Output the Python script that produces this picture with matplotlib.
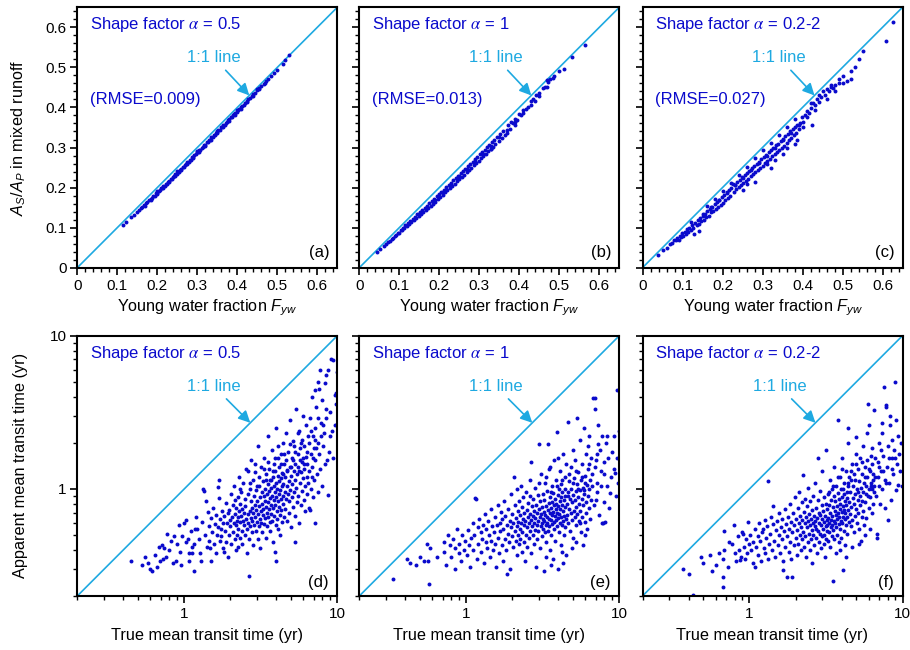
import numpy as np
import matplotlib
matplotlib.use('Agg')
import matplotlib.pyplot as plt
from matplotlib.ticker import FixedLocator, FuncFormatter, NullFormatter, LogLocator, MultipleLocator

plt.rcParams['font.family'] = ['Liberation Sans', 'DejaVu Sans']
plt.rcParams['mathtext.fontset'] = 'custom'
plt.rcParams['mathtext.rm'] = 'Liberation Sans'
plt.rcParams['mathtext.it'] = 'Liberation Sans:italic'
plt.rcParams['mathtext.bf'] = 'Liberation Sans:bold'

BLUE = '#0a0acc'
LIGHT = '#1ea9e1'

shape_labels = ['0.5', '1', '0.2-2']
rmse_labels = ['(RMSE=0.009)', '(RMSE=0.013)', '(RMSE=0.027)']
top_tags = ['(a)', '(b)', '(c)']
bottom_tags = ['(d)', '(e)', '(f)']

# (young water fraction, As/Ap in mixed runoff)
fyw_a = [(0.113, 0.107), (0.121, 0.114), (0.134, 0.126), (0.141, 0.132), (0.148, 0.139), (0.153, 0.143),
         (0.158, 0.149), (0.162, 0.151), (0.167, 0.156), (0.171, 0.161), (0.175, 0.163), (0.179, 0.168),
         (0.183, 0.172), (0.186, 0.173), (0.19, 0.179), (0.193, 0.18), (0.197, 0.186), (0.2, 0.187),
         (0.203, 0.192), (0.206, 0.193), (0.209, 0.198), (0.212, 0.199), (0.215, 0.203), (0.218, 0.205),
         (0.221, 0.21), (0.224, 0.21), (0.227, 0.215), (0.23, 0.216), (0.233, 0.222), (0.236, 0.222),
         (0.239, 0.227), (0.242, 0.228), (0.245, 0.234), (0.248, 0.234), (0.251, 0.239), (0.254, 0.24),
         (0.257, 0.245), (0.26, 0.246), (0.263, 0.251), (0.266, 0.252), (0.269, 0.257), (0.272, 0.258),
         (0.275, 0.264), (0.278, 0.264), (0.281, 0.27), (0.284, 0.27), (0.287, 0.276), (0.29, 0.276),
         (0.293, 0.282), (0.296, 0.283), (0.299, 0.288), (0.302, 0.289), (0.305, 0.295), (0.308, 0.295),
         (0.311, 0.3), (0.314, 0.301), (0.317, 0.307), (0.32, 0.307), (0.323, 0.313), (0.326, 0.314),
         (0.329, 0.319), (0.332, 0.32), (0.335, 0.325), (0.338, 0.326), (0.341, 0.331), (0.344, 0.332),
         (0.347, 0.337), (0.35, 0.338), (0.353, 0.344), (0.356, 0.344), (0.359, 0.35), (0.362, 0.351),
         (0.365, 0.356), (0.368, 0.357), (0.371, 0.362), (0.374, 0.364), (0.377, 0.368), (0.38, 0.37),
         (0.383, 0.375), (0.386, 0.376), (0.389, 0.381), (0.392, 0.383), (0.395, 0.387), (0.398, 0.389),
         (0.402, 0.394), (0.405, 0.396), (0.409, 0.4), (0.412, 0.403), (0.416, 0.407), (0.42, 0.411),
         (0.424, 0.415), (0.428, 0.42), (0.432, 0.424), (0.436, 0.428), (0.44, 0.433), (0.445, 0.437),
         (0.45, 0.443), (0.455, 0.448), (0.46, 0.454), (0.466, 0.459), (0.472, 0.466), (0.478, 0.472),
         (0.485, 0.479), (0.492, 0.487), (0.499, 0.494), (0.513, 0.509), (0.52, 0.518), (0.528, 0.532),
         (0.17, 0.155), (0.185, 0.169), (0.2, 0.184), (0.215, 0.2), (0.23, 0.214), (0.245, 0.229),
         (0.26, 0.244), (0.275, 0.259), (0.29, 0.274), (0.305, 0.289), (0.32, 0.304), (0.335, 0.32),
         (0.35, 0.335), (0.365, 0.351), (0.38, 0.366), (0.395, 0.382), (0.41, 0.397), (0.425, 0.413),
         (0.44, 0.429), (0.455, 0.445), (0.47, 0.461), (0.2, 0.191), (0.25, 0.241), (0.3, 0.292),
         (0.35, 0.342), (0.4, 0.393), (0.45, 0.445)]

fyw_b = [(0.045, 0.039), (0.052, 0.046), (0.061, 0.053), (0.067, 0.058), (0.072, 0.064), (0.077, 0.067),
         (0.081, 0.072), (0.085, 0.074), (0.089, 0.08), (0.092, 0.081), (0.096, 0.087), (0.099, 0.087),
         (0.103, 0.094), (0.106, 0.094), (0.109, 0.1), (0.112, 0.099), (0.115, 0.106), (0.118, 0.105),
         (0.121, 0.111), (0.124, 0.109), (0.127, 0.116), (0.13, 0.115), (0.133, 0.121), (0.136, 0.12),
         (0.139, 0.127), (0.142, 0.124), (0.145, 0.133), (0.148, 0.13), (0.151, 0.138), (0.154, 0.135),
         (0.157, 0.144), (0.16, 0.14), (0.163, 0.149), (0.166, 0.145), (0.169, 0.155), (0.172, 0.15),
         (0.175, 0.161), (0.178, 0.155), (0.181, 0.166), (0.184, 0.16), (0.187, 0.172), (0.19, 0.165),
         (0.193, 0.178), (0.196, 0.172), (0.199, 0.184), (0.202, 0.177), (0.205, 0.19), (0.208, 0.182),
         (0.211, 0.195), (0.214, 0.188), (0.217, 0.201), (0.22, 0.193), (0.223, 0.206), (0.226, 0.199),
         (0.229, 0.212), (0.232, 0.204), (0.235, 0.218), (0.238, 0.21), (0.241, 0.224), (0.244, 0.216),
         (0.247, 0.229), (0.25, 0.222), (0.253, 0.237), (0.256, 0.226), (0.259, 0.241), (0.262, 0.232),
         (0.265, 0.247), (0.268, 0.238), (0.271, 0.253), (0.274, 0.244), (0.277, 0.259), (0.28, 0.25),
         (0.283, 0.265), (0.286, 0.256), (0.289, 0.271), (0.292, 0.262), (0.295, 0.277), (0.298, 0.266),
         (0.301, 0.283), (0.304, 0.273), (0.307, 0.289), (0.31, 0.279), (0.313, 0.295), (0.316, 0.284),
         (0.319, 0.301), (0.322, 0.291), (0.325, 0.307), (0.328, 0.296), (0.331, 0.313), (0.334, 0.302),
         (0.337, 0.319), (0.34, 0.308), (0.344, 0.326), (0.348, 0.316), (0.352, 0.333), (0.356, 0.323),
         (0.36, 0.342), (0.364, 0.331), (0.368, 0.336), (0.372, 0.356), (0.376, 0.347), (0.38, 0.363),
         (0.385, 0.36), (0.39, 0.372), (0.395, 0.368), (0.4, 0.383), (0.405, 0.381), (0.41, 0.393),
         (0.416, 0.397), (0.422, 0.402), (0.428, 0.415), (0.435, 0.42), (0.442, 0.432), (0.45, 0.436),
         (0.458, 0.449), (0.465, 0.452), (0.472, 0.463), (0.477, 0.47), (0.483, 0.474), (0.486, 0.478),
         (0.512, 0.497), (0.531, 0.526), (0.564, 0.555),
         (0.15, 0.133), (0.17, 0.151), (0.19, 0.17), (0.21, 0.19), (0.23, 0.208), (0.25, 0.228),
         (0.27, 0.247), (0.29, 0.266), (0.31, 0.285), (0.33, 0.305), (0.35, 0.325), (0.37, 0.344),
         (0.39, 0.364), (0.41, 0.385), (0.43, 0.406), (0.45, 0.428), (0.47, 0.45), (0.44, 0.415),
         (0.39, 0.355), (0.33, 0.296), (0.47, 0.468), (0.5, 0.49)]

fyw_c = [(0.038, 0.032), (0.052, 0.044), (0.061, 0.05), (0.068, 0.058), (0.074, 0.061), (0.079, 0.068),
         (0.083, 0.07), (0.087, 0.075), (0.09, 0.068), (0.093, 0.08), (0.096, 0.076), (0.099, 0.086),
         (0.102, 0.079), (0.105, 0.089), (0.108, 0.084), (0.111, 0.096), (0.114, 0.089), (0.117, 0.1),
         (0.12, 0.094), (0.123, 0.106), (0.126, 0.099), (0.129, 0.085), (0.132, 0.112), (0.135, 0.106),
         (0.138, 0.118), (0.141, 0.11), (0.144, 0.124), (0.147, 0.116), (0.15, 0.129), (0.153, 0.12),
         (0.156, 0.135), (0.159, 0.126), (0.162, 0.141), (0.165, 0.13), (0.168, 0.146), (0.171, 0.138),
         (0.174, 0.151), (0.177, 0.142), (0.18, 0.158), (0.183, 0.147), (0.186, 0.163), (0.189, 0.152),
         (0.192, 0.17), (0.195, 0.157), (0.198, 0.176), (0.201, 0.162), (0.204, 0.181), (0.207, 0.168),
         (0.21, 0.187), (0.213, 0.173), (0.216, 0.193), (0.219, 0.179), (0.222, 0.2), (0.225, 0.21),
         (0.228, 0.19), (0.231, 0.207), (0.234, 0.196), (0.237, 0.214), (0.24, 0.201), (0.243, 0.22),
         (0.246, 0.206), (0.249, 0.226), (0.252, 0.212), (0.255, 0.232), (0.258, 0.217), (0.261, 0.237),
         (0.264, 0.222), (0.267, 0.242), (0.27, 0.228), (0.273, 0.249), (0.276, 0.234), (0.279, 0.254),
         (0.282, 0.239), (0.285, 0.26), (0.288, 0.245), (0.291, 0.265), (0.294, 0.25), (0.297, 0.271),
         (0.3, 0.255), (0.303, 0.277), (0.306, 0.261), (0.309, 0.282), (0.312, 0.267), (0.315, 0.29),
         (0.318, 0.272), (0.321, 0.295), (0.324, 0.278), (0.327, 0.3), (0.33, 0.283), (0.333, 0.306),
         (0.336, 0.289), (0.339, 0.31), (0.342, 0.294), (0.345, 0.316), (0.348, 0.3), (0.351, 0.321),
         (0.354, 0.305), (0.357, 0.328), (0.36, 0.312), (0.363, 0.334), (0.366, 0.318), (0.369, 0.34),
         (0.372, 0.323), (0.375, 0.345), (0.378, 0.33), (0.381, 0.351), (0.384, 0.336), (0.387, 0.357),
         (0.39, 0.345), (0.394, 0.362), (0.398, 0.375), (0.402, 0.364), (0.406, 0.38), (0.41, 0.391),
         (0.415, 0.386), (0.42, 0.398), (0.4225, 0.357), (0.425, 0.41), (0.43, 0.405), (0.435, 0.42),
         (0.44, 0.414), (0.445, 0.425), (0.45, 0.44), (0.455, 0.43), (0.46, 0.447), (0.466, 0.44),
         (0.472, 0.451), (0.475, 0.449), (0.48, 0.456), (0.49, 0.46), (0.5, 0.478), (0.51, 0.467),
         (0.52, 0.49), (0.53, 0.5), (0.54, 0.52), (0.55, 0.54), (0.609, 0.565), (0.627, 0.6125),
         (0.28, 0.215), (0.32, 0.25), (0.35, 0.285), (0.385, 0.32), (0.38, 0.31), (0.25, 0.195),
         (0.14, 0.092), (0.2, 0.192), (0.26, 0.252), (0.3, 0.293), (0.34, 0.332), (0.38, 0.371),
         (0.24, 0.232), (0.16, 0.153), (0.12, 0.113), (0.28, 0.273), (0.32, 0.312), (0.36, 0.352),
         (0.22, 0.212), (0.18, 0.172), (0.42, 0.41), (0.44, 0.43),
         (0.15, 0.135), (0.17, 0.152), (0.19, 0.168), (0.21, 0.19), (0.23, 0.207), (0.25, 0.225),
         (0.27, 0.244), (0.29, 0.262), (0.31, 0.28), (0.33, 0.3), (0.35, 0.318), (0.37, 0.336),
         (0.39, 0.356), (0.41, 0.376), (0.43, 0.394), (0.33, 0.27), (0.36, 0.3), (0.31, 0.26),
         (0.26, 0.21), (0.4, 0.35), (0.46, 0.42), (0.48, 0.44), (0.5, 0.46), (0.52, 0.47),
         (0.47, 0.455), (0.49, 0.47)]

# (true mean transit time, apparent mean transit time), years
mtt_d = [(0.45, 0.34), (0.53, 0.32), (0.55, 0.36), (0.58, 0.33), (0.6, 0.3), (0.62, 0.29), (0.64, 0.37),
         (0.66, 0.31), (0.68, 0.42), (0.69, 0.34),
         (0.71, 0.43), (0.73, 0.35), (0.74, 0.41), (0.76, 0.36), (0.77, 0.51), (0.8, 0.4), (0.82, 0.46),
         (0.84, 0.33), (0.86, 0.49), (0.88, 0.34), (0.9, 0.44), (0.93, 0.58), (0.94, 0.39), (0.95, 0.32),
         (0.97, 0.49), (0.99, 0.6),
         (1.02, 0.63), (1.03, 0.45), (1.05, 0.47), (1.07, 0.38), (1.08, 0.34), (1.1, 0.53), (1.12, 0.42),
         (1.13, 0.38), (1.15, 0.29), (1.16, 0.44), (1.18, 0.55), (1.19, 0.66), (1.22, 0.55), (1.24, 0.47),
         (1.27, 0.38), (1.28, 0.34), (1.3, 0.61), (1.32, 1.0), (1.34, 0.97), (1.36, 0.5), (1.38, 0.83),
         (1.4, 0.42), (1.42, 0.71), (1.44, 0.46), (1.45, 0.57), (1.47, 0.41), (1.49, 0.34), (1.5, 0.65),
         (1.52, 0.52), (1.55, 0.75), (1.57, 0.44), (1.58, 0.59), (1.6, 0.38), (1.62, 0.68), (1.63, 0.5),
         (1.65, 1.03), (1.66, 0.56), (1.68, 1.15), (1.69, 0.87), (1.7, 0.46), (1.72, 0.64), (1.73, 0.55),
         (1.75, 0.49), (1.77, 0.72), (1.78, 0.41), (1.8, 0.6), (1.82, 0.39), (1.83, 0.67), (1.85, 0.53),
         (1.87, 0.81), (1.88, 0.45), (1.9, 0.6), (1.92, 0.7), (1.93, 0.36), (1.95, 0.73), (1.96, 0.5),
         (1.98, 0.63), (2.0, 0.57), (2.02, 0.92), (2.03, 0.44), (2.05, 0.66), (2.07, 0.78), (2.08, 0.52),
         (2.1, 0.6), (2.11, 1.05), (2.13, 0.47), (2.14, 0.69), (2.16, 0.85), (2.17, 0.4), (2.18, 0.58),
         (2.19, 0.75), (2.2, 0.62), (2.21, 0.5),
         (2.23, 0.66), (2.24, 0.89), (2.25, 0.55), (2.26, 0.42), (2.28, 0.72), (2.29, 1.2), (2.3, 0.61),
         (2.32, 0.48), (2.33, 0.8), (2.35, 0.67), (2.36, 0.95), (2.37, 0.53), (2.39, 0.74), (2.4, 0.44),
         (2.42, 0.62), (2.43, 1.1), (2.45, 0.7), (2.46, 0.58), (2.48, 0.86), (2.5, 0.5), (2.51, 0.77),
         (2.53, 0.64), (2.54, 1.35), (2.56, 0.55), (2.57, 0.38), (2.59, 0.69), (2.6, 0.92), (2.62, 0.6),
         (2.63, 0.27), (2.65, 0.47), (2.67, 0.72), (2.68, 1.0), (2.7, 0.57), (2.71, 0.65), (2.73, 1.55),
         (2.74, 0.84), (2.76, 0.52), (2.77, 0.75), (2.79, 0.62), (2.8, 1.15), (2.82, 0.43), (2.83, 0.7),
         (2.85, 0.9), (2.87, 0.58), (2.88, 0.79), (2.9, 0.66), (2.91, 1.28), (2.93, 0.53), (2.95, 0.73),
         (2.96, 0.98), (2.98, 0.61), (3.0, 0.84), (3.01, 0.47), (3.03, 0.69), (3.04, 1.9), (3.06, 0.77),
         (3.08, 0.57), (3.09, 1.05), (3.11, 0.64), (3.13, 0.88), (3.14, 0.41), (3.16, 0.72), (3.17, 1.4),
         (3.19, 0.6), (3.2, 0.95),
         (3.22, 0.8), (3.23, 0.52), (3.25, 0.68), (3.27, 1.12), (3.28, 0.74), (3.3, 0.9), (3.31, 0.59),
         (3.33, 1.6), (3.35, 0.83), (3.36, 0.65), (3.38, 1.0), (3.4, 0.48), (3.41, 0.76), (3.43, 1.25),
         (3.45, 0.7), (3.46, 0.92), (3.48, 0.57), (3.5, 1.08), (3.51, 0.82), (3.53, 2.2), (3.55, 0.66),
         (3.56, 0.97), (3.58, 0.74), (3.6, 1.35), (3.61, 0.61), (3.63, 0.87), (3.65, 1.15), (3.66, 0.53),
         (3.68, 0.79), (3.7, 1.02), (3.71, 0.69), (3.73, 1.8), (3.75, 0.9), (3.76, 0.62), (3.78, 1.2),
         (3.8, 0.75), (3.81, 0.45), (3.83, 1.05), (3.85, 0.85), (3.86, 1.45), (3.88, 0.67), (3.9, 0.96),
         (3.91, 0.78), (3.93, 1.3), (3.95, 0.58), (3.96, 1.1), (3.98, 0.88), (4.0, 2.5), (4.0, 0.34),
         (3.92, 0.39), (4.02, 0.72), (4.03, 1.0), (4.05, 0.64), (4.07, 1.22), (4.08, 0.83), (4.1, 1.6),
         (4.12, 0.55), (4.13, 0.93), (4.15, 1.12), (4.17, 0.76), (4.19, 1.38), (4.2, 0.68), (4.22, 0.99),
         (4.24, 0.5), (4.26, 1.7), (4.27, 0.86), (4.29, 1.18), (4.31, 0.73), (4.33, 1.04), (4.35, 0.61),
         (4.37, 1.27), (4.39, 0.9), (4.41, 2.0), (4.43, 0.8), (4.45, 1.08), (4.47, 0.66), (4.49, 1.45),
         (4.52, 0.95), (4.55, 1.2), (4.57, 0.74), (4.6, 1.55), (4.62, 0.86), (4.65, 2.3), (4.67, 1.05),
         (4.7, 0.62), (4.72, 1.32), (4.75, 0.92), (4.78, 1.75), (4.8, 0.7), (4.83, 1.12), (4.86, 0.83),
         (4.88, 2.8), (4.91, 1.4), (4.94, 0.98), (4.97, 1.22), (5.0, 0.56), (5.03, 1.6), (5.06, 0.88),
         (5.09, 1.08), (5.12, 2.05), (5.15, 0.76), (5.18, 1.3), (5.21, 0.95), (5.24, 1.9), (5.27, 1.15),
         (5.28, 0.45), (5.3, 0.67), (5.33, 1.45), (5.36, 1.02), (5.4, 3.3), (5.43, 0.82), (5.46, 1.25),
         (5.5, 1.7), (5.53, 0.9), (5.57, 1.38), (5.6, 0.6), (5.64, 2.4), (5.67, 1.1), (5.71, 1.55),
         (5.75, 0.78), (5.78, 1.28), (5.82, 2.0), (5.86, 0.97), (5.9, 1.5), (5.94, 1.18), (5.98, 3.0),
         (6.02, 0.85), (6.06, 1.35), (6.1, 1.9), (6.14, 1.05), (6.18, 0.72), (6.22, 1.62), (6.26, 2.6),
         (6.3, 1.2), (6.34, 0.92), (6.38, 1.45), (6.42, 2.2), (6.46, 1.1), (6.5, 0.75),
         (6.55, 1.3), (6.6, 0.73), (6.65, 2.9), (6.7, 1.7), (6.75, 1.0), (6.8, 4.0), (6.85, 1.4),
         (6.9, 2.2), (6.95, 0.88), (7.0, 1.85), (7.05, 1.15), (7.14, 0.6), (7.15, 2.5), (7.2, 1.55),
         (7.2, 4.4), (7.3, 3.4), (7.35, 1.25), (7.5, 5.0), (7.45, 0.95), (7.5, 2.0), (7.6, 1.7),
         (7.65, 4.5), (7.7, 6.0), (7.7, 1.35), (7.8, 2.7), (7.9, 1.05), (8.0, 3.8), (8.1, 1.9),
         (8.2, 2.3), (8.3, 4.9), (8.3, 1.45), (8.4, 5.5), (8.5, 2.9), (8.7, 6.0), (8.7, 0.91),
         (8.8, 1.75), (9.0, 3.2), (9.1, 7.0), (9.2, 2.4), (9.4, 6.9), (9.4, 1.6), (9.6, 4.1),
         (9.7, 2.6), (9.8, 4.2), (9.8, 3.6), (9.9, 2.65), (9.9, 5.8),
         (2.6, 1.3), (2.9, 1.45), (3.1, 1.2), (3.3, 1.35), (3.5, 1.5), (3.7, 1.15), (3.9, 1.6),
         (4.1, 1.9), (4.3, 1.45), (4.5, 1.7), (4.7, 1.3), (4.9, 1.95), (5.1, 1.55), (5.3, 1.75),
         (5.5, 2.3), (5.7, 1.85), (5.9, 2.1), (6.1, 1.45), (6.3, 1.75), (6.5, 2.0), (6.7, 2.4),
         (6.9, 1.6), (7.1, 2.1), (7.3, 1.85), (7.5, 2.9), (7.8, 2.2), (8.1, 2.6), (8.4, 3.3),
         (8.6, 1.55), (8.9, 2.2), (2.3, 1.0), (2.7, 1.1), (3.0, 1.05), (3.4, 1.15), (3.8, 1.3),
         (4.4, 1.25), (5.0, 1.4), (5.6, 1.3), (6.0, 1.6), (6.8, 1.2)]

mtt_e = [(0.33, 0.26), (0.41, 0.35), (0.43, 0.33), (0.47, 0.32), (0.5, 0.36), (0.53, 0.34), (0.55, 0.44),
         (0.56, 0.34), (0.57, 0.24), (0.58, 0.41), (0.64, 0.36),
         (0.71, 0.45), (0.72, 0.39), (0.74, 0.32), (0.76, 0.5), (0.78, 0.43), (0.8, 0.36), (0.82, 0.47),
         (0.84, 0.3), (0.85, 0.41), (0.87, 0.55), (0.89, 0.38), (0.9, 0.44), (0.92, 0.34), (0.94, 0.5),
         (0.96, 0.4), (0.98, 0.46),
         (1.01, 0.37), (1.03, 0.54), (1.04, 0.43), (1.06, 0.31), (1.08, 0.48), (1.1, 0.6), (1.11, 0.4),
         (1.13, 0.5), (1.14, 0.87), (1.16, 0.86), (1.17, 0.35), (1.19, 0.56), (1.2, 0.44), (1.22, 0.64),
         (1.24, 0.39), (1.25, 0.52), (1.27, 0.47), (1.29, 0.58), (1.3, 0.33), (1.32, 0.69), (1.34, 0.45),
         (1.35, 0.55), (1.37, 0.41), (1.39, 0.62), (1.41, 0.5), (1.43, 0.36), (1.44, 0.74), (1.46, 0.46),
         (1.48, 0.57), (1.5, 0.4),
         (1.52, 0.52), (1.54, 0.66), (1.55, 0.44), (1.57, 0.31), (1.58, 0.58), (1.6, 0.79), (1.62, 0.48),
         (1.63, 0.38), (1.65, 0.6), (1.67, 0.53), (1.68, 0.71), (1.7, 0.43), (1.72, 0.64), (1.73, 0.34),
         (1.75, 0.55), (1.77, 0.84), (1.78, 0.47), (1.8, 0.67), (1.82, 0.4), (1.84, 0.58), (1.85, 0.28),
         (1.87, 0.51), (1.88, 0.74), (1.9, 0.45), (1.92, 0.62), (1.93, 0.3), (1.95, 0.56), (1.97, 0.92),
         (1.98, 0.49), (2.0, 0.69), (2.02, 0.42), (2.03, 0.6), (2.05, 1.2), (2.07, 0.53), (2.08, 0.78),
         (2.1, 0.46), (2.12, 0.65), (2.13, 0.37), (2.15, 0.57), (2.16, 1.0), (2.17, 0.5), (2.18, 0.72),
         (2.19, 0.61), (2.2, 0.44), (2.21, 0.83),
         (2.23, 0.55), (2.24, 0.68), (2.25, 0.47), (2.27, 1.05), (2.28, 0.6), (2.3, 0.39), (2.31, 0.76),
         (2.33, 0.52), (2.34, 0.64), (2.36, 0.88), (2.37, 0.45), (2.39, 0.58), (2.4, 0.7), (2.42, 0.34),
         (2.43, 0.62), (2.45, 0.95), (2.46, 0.5), (2.48, 0.73), (2.5, 0.56), (2.51, 0.42), (2.53, 0.66),
         (2.54, 0.81), (2.56, 0.6), (2.57, 0.48), (2.59, 1.15), (2.6, 0.69), (2.62, 0.53), (2.63, 1.5),
         (2.65, 0.63), (2.66, 0.38), (2.68, 0.77), (2.7, 0.57), (2.71, 0.86), (2.73, 0.5), (2.74, 0.67),
         (2.76, 0.44), (2.77, 0.72), (2.79, 0.6), (2.8, 1.02), (2.82, 0.54), (2.83, 0.65), (2.85, 0.31),
         (2.87, 0.79), (2.88, 0.58), (2.9, 0.7), (2.91, 0.47), (2.93, 0.91), (2.95, 0.62), (2.96, 0.53),
         (2.98, 1.97), (2.99, 0.74), (3.01, 0.66), (3.03, 0.41), (3.04, 0.83), (3.06, 0.57), (3.08, 0.69),
         (3.09, 1.25), (3.11, 0.6), (3.13, 0.49), (3.14, 0.76), (3.16, 0.64), (3.17, 0.93), (3.19, 0.55),
         (3.2, 0.29), (3.21, 0.71),
         (3.23, 0.62), (3.24, 0.85), (3.26, 0.52), (3.27, 1.1), (3.29, 0.68), (3.3, 0.58), (3.32, 0.77),
         (3.34, 0.45), (3.35, 0.66), (3.37, 0.97), (3.38, 0.6), (3.4, 1.97), (3.41, 0.73), (3.43, 0.53),
         (3.45, 0.81), (3.46, 0.64), (3.48, 1.35), (3.49, 0.57), (3.51, 0.7), (3.53, 0.4), (3.54, 0.88),
         (3.56, 0.63), (3.57, 0.75), (3.59, 0.5), (3.61, 1.05), (3.62, 0.68), (3.64, 0.59), (3.66, 0.82),
         (3.67, 0.35), (3.69, 0.71), (3.7, 0.94), (3.72, 0.61), (3.74, 0.78), (3.75, 1.55), (3.77, 0.55),
         (3.79, 0.67), (3.8, 0.86), (3.82, 0.46), (3.84, 0.74), (3.85, 1.15), (3.87, 0.63), (3.88, 0.8),
         (3.9, 0.57), (3.92, 2.36), (3.93, 0.7), (3.95, 0.3), (3.97, 0.91), (3.98, 0.65), (4.0, 0.77),
         (4.02, 0.52), (4.03, 1.0), (4.05, 0.69), (4.07, 0.84), (4.09, 0.6), (4.1, 1.3), (4.12, 0.74),
         (4.14, 0.43), (4.16, 0.88), (4.17, 0.66), (4.19, 1.08), (4.21, 0.58), (4.23, 0.79), (4.25, 0.95),
         (4.27, 0.62), (4.29, 1.7), (4.31, 0.72), (4.33, 0.5), (4.35, 0.85), (4.37, 0.67), (4.39, 1.2),
         (4.41, 0.76), (4.43, 0.56), (4.45, 0.9), (4.47, 0.64), (4.49, 1.45), (4.5, 0.37), (4.3, 0.33),
         (3.6, 0.32), (4.2, 0.39), (3.3, 0.36),
         (4.53, 0.8), (4.56, 0.68), (4.6, 2.75), (4.62, 0.95), (4.65, 0.6), (4.68, 1.12), (4.71, 0.74),
         (4.74, 0.86), (4.77, 0.53), (4.8, 1.4), (4.83, 0.7), (4.86, 1.0), (4.89, 0.63), (4.92, 0.82),
         (4.95, 1.8), (4.98, 0.48), (5.01, 0.91), (5.04, 0.72), (5.07, 1.18), (5.1, 0.66), (5.13, 0.85),
         (5.16, 1.55), (5.19, 0.58), (5.22, 0.97), (5.25, 0.76), (5.28, 1.08), (5.3, 2.9), (5.33, 0.69),
         (5.36, 0.88), (5.4, 1.28), (5.43, 0.62), (5.46, 0.8), (5.5, 2.1), (5.53, 0.99), (5.56, 0.72),
         (5.6, 1.15), (5.64, 0.52), (5.67, 0.86), (5.7, 1.45), (5.74, 0.66), (5.78, 1.02), (5.82, 0.78),
         (5.86, 2.5), (5.9, 0.93), (5.94, 0.61), (5.98, 1.22), (6.02, 0.82), (6.06, 1.7), (6.1, 0.7),
         (6.14, 1.06), (6.18, 0.55), (6.22, 0.9), (6.26, 1.35), (6.3, 0.75), (6.34, 2.2), (6.38, 1.0),
         (6.42, 0.64), (6.46, 1.15), (6.5, 0.85), (5.2, 0.45), (5.8, 0.43), (6.0, 0.5), (4.9, 0.41),
         (5.55, 0.6), (6.2, 1.9),
         (6.6, 1.25), (6.7, 3.9), (6.8, 0.78), (6.95, 3.9), (7.0, 1.55), (7.1, 0.95), (7.2, 1.1),
         (7.3, 2.6), (7.4, 0.68), (7.5, 1.8), (7.6, 1.3), (7.7, 2.2), (7.7, 0.6), (7.8, 0.6), (7.9, 0.82),
         (8.0, 1.5), (8.1, 0.61), (8.2, 2.0), (8.3, 1.05), (8.3, 2.2), (8.5, 1.6), (8.6, 0.75),
         (8.7, 0.94), (8.8, 1.2), (9.0, 1.75), (9.2, 2.2), (9.3, 1.35), (9.4, 1.27), (9.5, 0.9),
         (9.6, 4.4), (9.7, 1.6), (9.8, 1.1), (9.9, 2.4), (6.9, 3.3), (7.25, 1.95),
         (3.0, 1.1), (3.3, 1.2), (3.6, 0.95), (3.9, 1.05), (4.2, 1.15), (4.4, 1.0), (4.7, 1.25),
         (5.0, 1.1), (5.2, 1.3), (5.4, 1.0), (5.7, 1.2), (6.0, 1.1), (6.3, 1.45), (6.6, 1.05),
         (6.9, 1.4), (7.2, 1.7), (7.6, 1.05), (8.0, 1.25), (4.6, 0.9), (5.9, 0.98), (2.6, 0.9),
         (3.5, 1.4), (4.0, 1.6), (6.5, 1.6), (7.0, 0.85)]

mtt_f = [(0.37, 0.3), (0.4, 0.28), (0.43, 0.204), (0.48, 0.36), (0.5, 0.33), (0.555, 0.37), (0.57, 0.29),
         (0.6, 0.32), (0.63, 0.38), (0.67, 0.35), (0.67, 0.265), (0.67, 0.23), (0.68, 0.4), (0.685, 0.535),
         (0.72, 0.31), (0.74, 0.45), (0.77, 0.44), (0.79, 0.58), (0.8, 0.38), (0.82, 0.34), (0.84, 0.49),
         (0.86, 0.4), (0.87, 0.345), (0.88, 0.36), (0.89, 0.52), (0.91, 0.51), (0.92, 0.42), (0.93, 0.35),
         (0.95, 0.47), (0.97, 0.38), (0.985, 0.61), (0.99, 0.44),
         (1.01, 0.5), (1.03, 0.4), (1.05, 0.45), (1.06, 0.33), (1.08, 0.55), (1.09, 0.31), (1.11, 0.42),
         (1.13, 0.49), (1.14, 0.37), (1.16, 0.6), (1.18, 0.46), (1.19, 0.34), (1.21, 0.52), (1.23, 0.55),
         (1.24, 0.41), (1.26, 0.63), (1.27, 0.38), (1.29, 0.48), (1.31, 0.57), (1.32, 0.35), (1.33, 1.12),
         (1.35, 0.44), (1.37, 0.51), (1.38, 0.66), (1.4, 0.4), (1.42, 0.59), (1.43, 0.77), (1.45, 0.46),
         (1.47, 0.36), (1.49, 0.54),
         (1.51, 0.62), (1.53, 0.43), (1.55, 0.5), (1.56, 0.7), (1.58, 0.38), (1.6, 0.56), (1.62, 0.47),
         (1.63, 0.64), (1.65, 0.34), (1.66, 0.296), (1.68, 0.53), (1.7, 0.74), (1.71, 0.42), (1.73, 0.59),
         (1.75, 0.268), (1.76, 0.49), (1.78, 0.66), (1.8, 0.39), (1.81, 0.55), (1.83, 0.8), (1.85, 0.45),
         (1.86, 0.61), (1.88, 0.35), (1.9, 0.268), (1.91, 0.52), (1.93, 0.7), (1.95, 0.43), (1.96, 0.58),
         (1.98, 0.88), (2.0, 0.48), (2.02, 0.64), (2.03, 0.37), (2.05, 0.54), (2.07, 0.75), (2.08, 0.44),
         (2.1, 0.6), (2.12, 0.95), (2.13, 0.5), (2.15, 0.67), (2.16, 0.4), (2.18, 0.56), (2.19, 0.82),
         (2.2, 0.47), (2.21, 0.63), (2.24, 1.23),
         (2.25, 0.52), (2.26, 0.71), (2.28, 0.42), (2.29, 0.6), (2.31, 0.86), (2.32, 0.49), (2.34, 0.66),
         (2.35, 0.36), (2.37, 0.56), (2.38, 0.77), (2.4, 0.45), (2.41, 0.62), (2.43, 1.02), (2.44, 0.51),
         (2.46, 0.69), (2.47, 0.4), (2.49, 0.58), (2.5, 0.83), (2.52, 0.47), (2.53, 0.64), (2.55, 0.54),
         (2.56, 0.73), (2.58, 0.33), (2.59, 0.6), (2.61, 0.9), (2.62, 0.5), (2.64, 0.67), (2.65, 0.43),
         (2.67, 0.57), (2.68, 1.1), (2.7, 0.62), (2.71, 0.48), (2.73, 0.75), (2.74, 0.55), (2.76, 0.38),
         (2.77, 0.65), (2.79, 0.85), (2.8, 1.58), (2.82, 0.53), (2.83, 0.7), (2.85, 0.45), (2.86, 0.6),
         (2.88, 0.97), (2.89, 0.51), (2.91, 0.68), (2.92, 0.41), (2.94, 0.58), (2.96, 0.78), (2.97, 0.49),
         (2.99, 0.64), (3.0, 1.3), (3.02, 0.55), (3.03, 0.72), (3.05, 0.44), (3.06, 0.61), (3.08, 0.88),
         (3.09, 0.5), (3.11, 0.67), (3.13, 0.36), (3.14, 0.57), (3.16, 0.8), (3.17, 0.47), (3.18, 1.8),
         (3.19, 0.63), (3.2, 0.53),
         (3.22, 0.74), (3.23, 0.58), (3.25, 0.46), (3.26, 0.92), (3.28, 0.65), (3.29, 0.52), (3.31, 0.78),
         (3.33, 0.6), (3.34, 1.15), (3.36, 0.42), (3.37, 0.7), (3.39, 0.56), (3.4, 0.85), (3.42, 0.63),
         (3.44, 0.49), (3.45, 1.0), (3.47, 0.67), (3.48, 0.58), (3.5, 0.25), (3.51, 0.76), (3.53, 0.54),
         (3.55, 0.9), (3.56, 0.62), (3.58, 1.4), (3.59, 0.47), (3.61, 0.72), (3.63, 0.6), (3.64, 0.83),
         (3.66, 0.38), (3.67, 0.68), (3.69, 1.05), (3.7, 0.56), (3.72, 0.77), (3.74, 0.64), (3.75, 0.5),
         (3.77, 0.94), (3.79, 2.82), (3.8, 0.7), (3.82, 0.59), (3.83, 0.86), (3.85, 0.45), (3.87, 0.66),
         (3.88, 1.2), (3.9, 0.74), (3.92, 0.55), (3.93, 0.8), (3.95, 0.62), (3.97, 1.0), (3.98, 0.48),
         (4.0, 0.71), (4.02, 0.88), (4.03, 0.6), (4.05, 1.6), (4.07, 0.77), (4.08, 0.296), (4.1, 0.66),
         (4.12, 0.92), (4.13, 0.53), (4.15, 0.73), (4.17, 1.1), (4.18, 0.64), (4.2, 0.84), (4.22, 0.43),
         (4.24, 0.7), (4.25, 1.3), (4.27, 0.58), (4.29, 0.79), (4.31, 0.96), (4.33, 0.66), (4.35, 0.51),
         (4.37, 0.87), (4.39, 2.0), (4.4, 2.49), (4.41, 0.73), (4.43, 1.05), (4.45, 0.61), (4.47, 0.82),
         (4.49, 1.2), (3.9, 0.4), (4.3, 0.36),
         (4.52, 0.69), (4.55, 0.95), (4.58, 0.57), (4.61, 1.15), (4.64, 0.76), (4.67, 1.45), (4.7, 0.63),
         (4.73, 0.87), (4.76, 1.05), (4.79, 0.52), (4.82, 0.8), (4.85, 1.25), (4.88, 0.67), (4.91, 0.93),
         (4.94, 1.7), (4.98, 2.19), (5.0, 0.74), (5.03, 1.0), (5.06, 0.6), (5.09, 0.85), (5.12, 1.35),
         (5.15, 0.7), (5.18, 1.12), (5.21, 0.55), (5.24, 0.9), (5.27, 1.6), (5.3, 0.78), (5.33, 1.02),
         (5.36, 0.46), (5.4, 0.84), (5.43, 1.25), (5.46, 0.66), (5.5, 1.9), (5.53, 0.95), (5.56, 0.72),
         (5.6, 1.1), (5.63, 0.58), (5.67, 1.4), (5.7, 0.82), (5.74, 1.05), (5.78, 0.65), (5.82, 1.2),
         (5.86, 2.3), (5.93, 3.6), (5.96, 0.9), (6.0, 2.6), (6.04, 1.0), (6.08, 0.75), (6.12, 1.3),
         (6.16, 0.88), (6.2, 1.65), (6.24, 1.1), (6.28, 0.7), (6.32, 1.0), (6.36, 1.45), (6.4, 0.8),
         (6.44, 1.15), (6.48, 0.95), (6.5, 1.05), (5.7, 0.5), (6.1, 0.55), (5.2, 0.44), (4.7, 0.42),
         (5.9, 1.55), (6.3, 1.85),
         (6.55, 3.28), (6.6, 1.2), (6.7, 0.9), (6.8, 0.477), (6.82, 0.51), (6.9, 1.5), (7.0, 1.05),
         (7.05, 2.0), (7.1, 0.8), (7.2, 1.3), (7.3, 1.0), (7.4, 2.3), (7.5, 1.65), (7.6, 4.65),
         (7.65, 1.15), (7.7, 0.75), (7.8, 3.53), (7.82, 3.4), (7.9, 1.4), (8.0, 0.63), (8.1, 1.9),
         (8.2, 1.1), (8.3, 2.6), (8.4, 0.85), (8.5, 1.6), (8.6, 2.1), (8.7, 1.25), (8.8, 1.8),
         (8.96, 5.0), (9.06, 2.82), (9.1, 0.98), (9.2, 1.45), (9.3, 1.06), (9.4, 2.2), (9.5, 1.7),
         (9.6, 1.3), (9.8, 2.0), (9.9, 1.05), (7.3, 2.7), (8.3, 3.0),
         (3.5, 1.05), (3.8, 1.2), (4.1, 1.0), (4.4, 1.1), (4.6, 1.3), (4.9, 1.15), (5.1, 0.95),
         (5.4, 1.5), (5.7, 1.2), (6.0, 1.35), (6.2, 1.05), (6.6, 1.6), (6.9, 1.2), (7.2, 1.8),
         (7.5, 1.3), (7.8, 1.1), (8.2, 1.6), (3.3, 0.95), (4.0, 1.35), (5.0, 1.45), (5.8, 0.92),
         (6.4, 1.25), (7.0, 1.4), (8.5, 1.35), (9.0, 1.6)]

top_sets = [fyw_a, fyw_b, fyw_c]
bottom_sets = [mtt_d, mtt_e, mtt_f]

W, H = 910, 650
fig = plt.figure(figsize=(W / 100, H / 100), dpi=100)


def add_axes_px(x0, y0, w, h):
    return fig.add_axes([x0 / W, 1 - (y0 + h) / H, w / W, h / H])


def style_axes(ax):
    for sp in ax.spines.values():
        sp.set_linewidth(1.5)
    ax.tick_params(which='major', direction='out', length=4.8, width=1.2, labelsize=11, pad=3)
    ax.tick_params(which='minor', direction='out', length=2.8, width=1.0)


lefts = [77.3, 359.3, 642.5]
num_fmt = FuncFormatter(lambda v, p: f'{v:g}')
arrow_style = dict(arrowstyle='-|>,head_length=0.5,head_width=0.25', color=LIGHT,
                   lw=1.2, shrinkA=2, shrinkB=0, mutation_scale=14)

for i in range(3):
    ax = add_axes_px(lefts[i], 7.3, 260, 260.4)
    x, y = np.array(top_sets[i]).T
    ax.plot([0, 0.65], [0, 0.65], color=LIGHT, lw=1.2, zorder=1)
    ax.scatter(x, y, s=8, color=BLUE, linewidths=0, zorder=2)
    ax.set_xlim(0, 0.65)
    ax.set_ylim(0, 0.65)
    ax.xaxis.set_major_locator(MultipleLocator(0.1))
    ax.xaxis.set_minor_locator(MultipleLocator(0.02))
    ax.yaxis.set_major_locator(MultipleLocator(0.1))
    ax.yaxis.set_minor_locator(MultipleLocator(0.02))
    ax.xaxis.set_major_formatter(num_fmt)
    ax.yaxis.set_major_formatter(num_fmt)
    style_axes(ax)
    if i > 0:
        ax.tick_params(axis='y', labelleft=False)
    else:
        ax.set_ylabel(r'$A_S/A_P$ in mixed runoff', fontsize=11.7)
        ax.yaxis.set_label_coords(-0.19, 0.5)
    ax.set_xlabel(r'Young water fraction $F_{yw}$', fontsize=11.7, labelpad=3.5)

    ax.text(0.049, 0.935, r'Shape factor $\alpha$ = ' + shape_labels[i], transform=ax.transAxes,
            color=BLUE, fontsize=12, va='center', math_fontfamily='stix')
    ax.annotate('1:1 line', xy=(0.43, 0.43), xytext=(0.342, 0.5235), ha='center', va='center',
                color=LIGHT, fontsize=12, arrowprops=arrow_style)
    ax.text(0.031, 0.419, rmse_labels[i], color=BLUE, fontsize=12, va='center')
    ax.text(0.97, 0.057, top_tags[i], transform=ax.transAxes, ha='right', va='center', fontsize=12)

for i in range(3):
    ax = add_axes_px(lefts[i], 335.7, 260, 260.3)
    x, y = np.array(bottom_sets[i]).T
    ax.set_xscale('log')
    ax.set_yscale('log')
    ax.plot([0.2, 10], [0.2, 10], color=LIGHT, lw=1.2, zorder=1)
    ax.scatter(x, y, s=8, color=BLUE, linewidths=0, zorder=2)
    ax.set_xlim(0.2, 10)
    ax.set_ylim(0.2, 10)
    for axis in (ax.xaxis, ax.yaxis):
        axis.set_major_locator(FixedLocator([1, 10]))
        axis.set_major_formatter(num_fmt)
        axis.set_minor_locator(LogLocator(base=10, subs=np.arange(2, 10)))
        axis.set_minor_formatter(NullFormatter())
    style_axes(ax)
    if i > 0:
        ax.tick_params(axis='y', labelleft=False)
    else:
        ax.set_ylabel('Apparent mean transit time (yr)', fontsize=11.7)
        ax.yaxis.set_label_coords(-0.19, 0.5)
    ax.set_xlabel('True mean transit time (yr)', fontsize=11.7, labelpad=5)

    ax.text(0.049, 0.932, r'Shape factor $\alpha$ = ' + shape_labels[i], transform=ax.transAxes,
            color=BLUE, fontsize=12, va='center', math_fontfamily='stix')
    ax.annotate('1:1 line', xy=(2.7, 2.7), xytext=(1.57, 4.65), ha='center', va='center',
                color=LIGHT, fontsize=12, arrowprops=arrow_style)
    ax.text(0.965, 0.053, bottom_tags[i], transform=ax.transAxes, ha='right', va='center', fontsize=12)

fig.savefig('out.png', dpi=100)
